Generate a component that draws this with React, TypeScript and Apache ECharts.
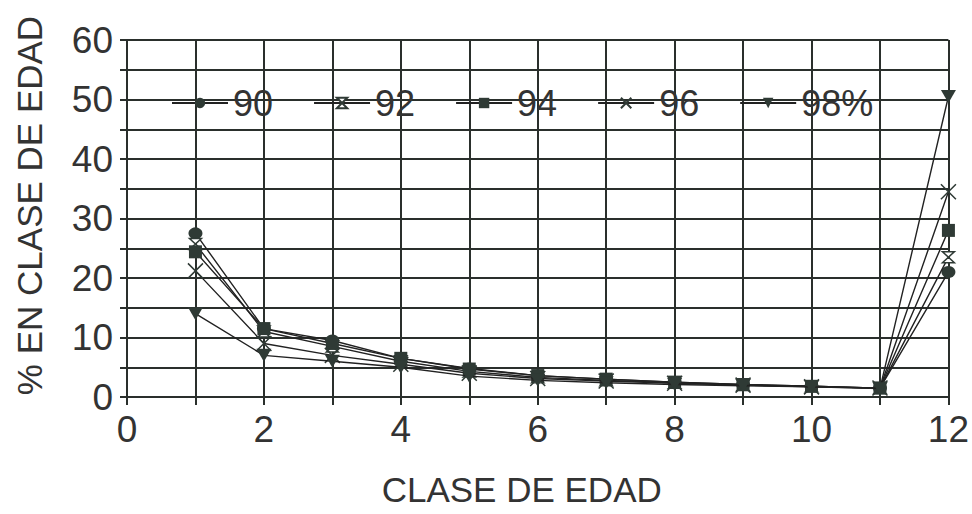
import React, { useEffect, useRef } from "react";
import * as echarts from "echarts";

const xValues = [1, 2, 3, 4, 5, 6, 7, 8, 9, 10, 11, 12];
const s90 = [27.5, 11.5, 9.5, 6.5, 4.8, 3.6, 3.0, 2.5, 2.1, 1.8, 1.5, 21];
const s92 = [25.7, 11, 8.5, 6, 4.3, 3.3, 2.8, 2.4, 2.0, 1.8, 1.5, 23.5];
const s94 = [24.4, 11.5, 9, 6.5, 4.7, 3.6, 3.0, 2.5, 2.1, 1.8, 1.5, 28];
const s96 = [21.2, 9, 7, 5.5, 4.0, 3.1, 2.7, 2.3, 2.0, 1.7, 1.5, 34.5];
const s98 = [14, 7, 6, 5, 3.5, 2.8, 2.4, 2.1, 1.9, 1.7, 1.4, 50.5];
const seriesNames = ["90", "92", "94", "96", "98%"];

const FONT = "Liberation Sans, Arial, sans-serif";
const INK = "#2a2f2c";

const symbols = [
  "circle",
  "path://M0,0 L10,0 L5,5 L10,10 L0,10 L5,5 Z",
  "rect",
  "path://M0,0 L10,10 M10,0 L0,10",
  "path://M0,0 L10,0 L5,9 Z",
];
const symbolSizes: any[] = [[14, 12], [12, 11], 13, 15, [15, 13]];

export default function App() {
  const ref = useRef<HTMLDivElement>(null);
  useEffect(() => {
    document.body.style.margin = "0";
    const chart = echarts.init(ref.current!, undefined, { renderer: "svg" });
    const all = [s90, s92, s94, s96, s98];
    chart.setOption({
      animation: false,
      backgroundColor: "#ffffff",
      grid: { left: 127, right: 22, top: 40, bottom: 117 },
      legend: {
        left: 166,
        top: 80,
        itemWidth: 56,
        itemHeight: 13,
        itemGap: 40,
        data: seriesNames,
        textStyle: { fontFamily: FONT, fontSize: 36, color: "#333" },
      },
      xAxis: {
        type: "value",
        min: 0,
        max: 12,
        interval: 1,
        name: "CLASE DE EDAD",
        nameLocation: "middle",
        nameGap: 75,
        nameTextStyle: { fontFamily: FONT, fontSize: 35, color: "#333", padding: [0, 32, 0, 0] },
        axisLine: { show: true, lineStyle: { color: INK, width: 2 } },
        axisTick: { show: true, length: 8, lineStyle: { color: INK, width: 2 } },
        axisLabel: {
          fontFamily: FONT,
          fontSize: 37,
          color: "#333",
          margin: 14,
          formatter: (v: number) => (v % 2 === 0 ? String(v) : ""),
        },
        splitLine: { show: true, lineStyle: { color: INK, width: 2 } },
      },
      yAxis: {
        type: "value",
        min: 0,
        max: 60,
        interval: 5,
        name: "% EN CLASE DE EDAD",
        nameLocation: "middle",
        nameGap: 80,
        nameTextStyle: { fontFamily: FONT, fontSize: 35, color: "#333", padding: [0, 0, 0, 26] },
        axisLine: { show: true, lineStyle: { color: INK, width: 2 } },
        axisTick: { show: true, length: 7, lineStyle: { color: INK, width: 2 } },
        axisLabel: {
          fontFamily: FONT,
          fontSize: 37,
          color: "#333",
          margin: 14,
          formatter: (v: number) => (v % 10 === 0 ? String(v) : ""),
        },
        splitLine: { show: true, lineStyle: { color: INK, width: 2 } },
      },
      series: all.map((arr, i) => ({
        name: seriesNames[i],
        type: "line",
        data: xValues.map((x, k) => [x, arr[k]]),
        symbol: symbols[i],
        symbolSize: symbolSizes[i],
        showAllSymbol: true,
        lineStyle: { color: "#222", width: 1.4 },
        itemStyle: {
          color: i === 1 || i === 3 ? "#fff" : "#2f3a35",
          borderColor: "#2f3a35",
          borderWidth: i === 1 || i === 3 ? 1.5 : 0,
        },
        z: 3 + i,
      })),
    });
    return () => chart.dispose();
  }, []);
  return <div ref={ref} style={{ width: 972, height: 514 }} />;
}
